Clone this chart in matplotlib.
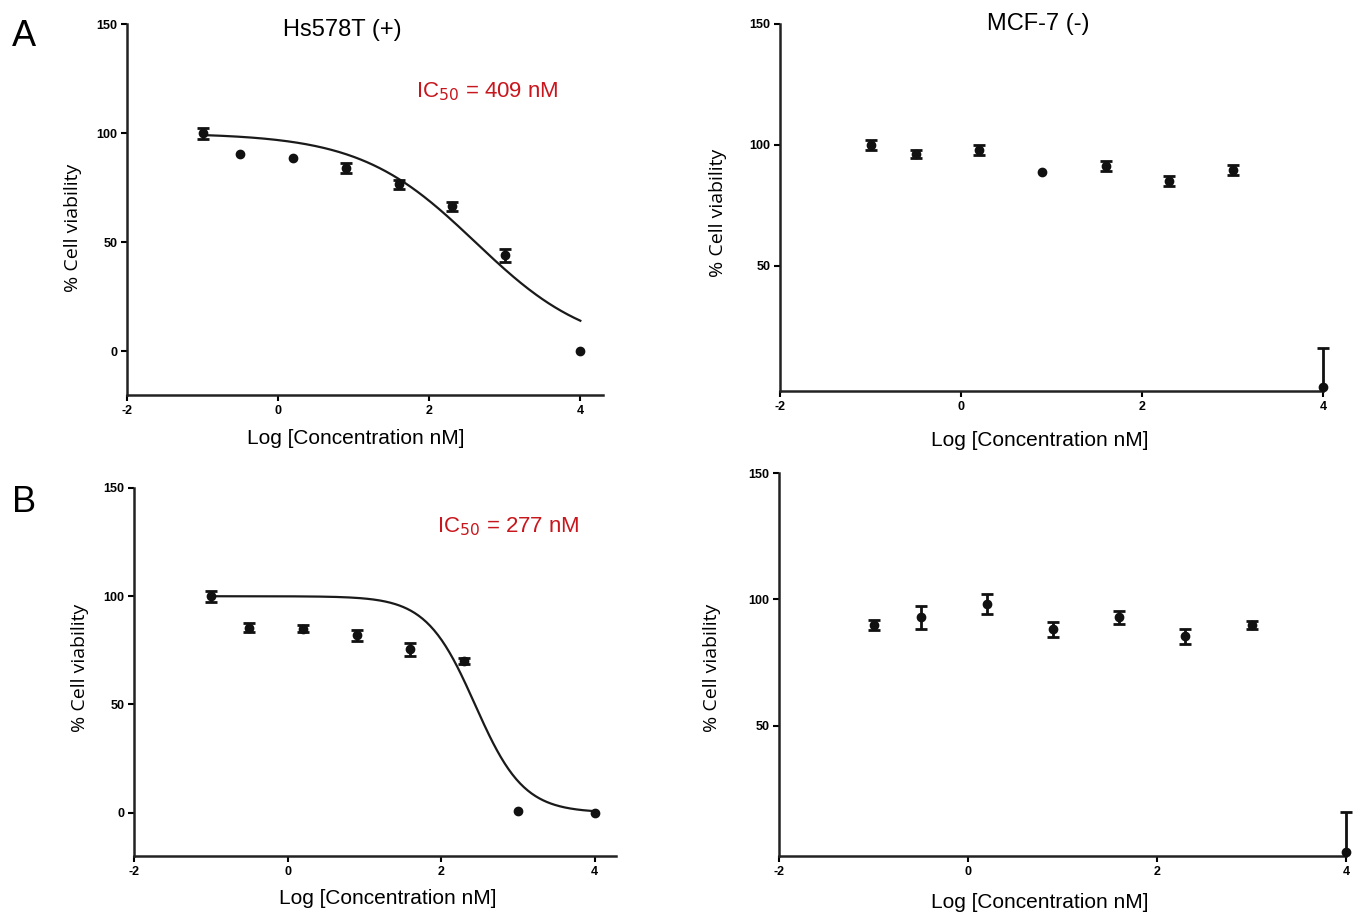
import numpy as np
import matplotlib
matplotlib.use("Agg")
import matplotlib.pyplot as plt

plt.rcParams['font.family'] = ['Liberation Sans Narrow', 'Liberation Sans', 'DejaVu Sans']
plt.rcParams['axes.unicode_minus'] = False

log_conc = [-1.0, -0.5, 0.2, 0.9, 1.6, 2.3, 3.0, 4.0]

# A: Hs578T (+)
hs_a_y = [100, 90.5, 88.5, 84, 76.5, 66.5, 44, 0]
hs_a_err = [2.5, 0, 0, 2.5, 2, 2, 3, 0]
# A: MCF-7 (-)
mcf_a_y = [100, 96.3, 98, 88.8, 91.3, 85.1, 89.7, 0]
mcf_a_err = [2, 1.5, 2, 0, 2, 2, 2, 16]
# B: Hs578T (+)
hs_b_y = [100, 85.5, 85, 82, 75.5, 70, 1, 0]
hs_b_err = [2.5, 2, 1.5, 2.5, 3, 1.5, 0, 0]
# B: MCF-7 (-)
mcf_b_y = [89.8, 92.9, 98, 88.2, 92.9, 85.4, 89.8, 0]
mcf_b_err = [2, 4.5, 4, 3, 2.5, 3, 1.5, 16]

# 4PL fit parameters: top, bottom, logIC50, hill
fit_a = (100, 0, np.log10(409), 0.567)
fit_b = (100, 0, np.log10(277), 1.37)

W, H = 1354, 915
fig = plt.figure(figsize=(W / 100, H / 100), dpi=100)


def box(l, t, r, b):
    return [l / W, 1 - b / H, (r - l) / W, (b - t) / H]


def fit_curve(ax, p):
    top, bot, lic, h = p
    xs = np.linspace(-1, 4, 300)
    ax.plot(xs, bot + (top - bot) / (1 + 10 ** ((xs - lic) * h)), color="#1a1a1a", lw=1.6, zorder=2)


def panel(rect, y, err, ylim, xlim, yticks, fit=None):
    ax = fig.add_axes(box(*rect))
    xe = [x for x, e in zip(log_conc, err) if e > 0]
    ye = [v for v, e in zip(y, err) if e > 0]
    up = [e for e in err if e > 0]
    lo = [min(e, v) for v, e in zip(ye, up)]  # bars stop at the x axis
    bars = ax.errorbar(xe, ye, yerr=[lo, up], fmt="none", ecolor="#111111", elinewidth=2,
                       capsize=4, capthick=2, zorder=3)
    for art in bars.lines[1] + bars.lines[2]:
        art.set_clip_on(False)
    # drop the lower cap where the bar is cut at the axis
    low_cap = bars.lines[1][0]
    keep = [i for i, l in enumerate(lo) if l > 0]
    low_cap.set_data([xe[i] for i in keep], [ye[i] - lo[i] for i in keep])
    ax.plot(log_conc, y, "o", color="#111111", ms=6, zorder=4, clip_on=False)
    if fit is not None:
        fit_curve(ax, fit)
    ax.set_xlim(*xlim)
    ax.set_ylim(*ylim)
    ax.set_xticks([-2, 0, 2, 4])
    ax.set_yticks(yticks)
    for s in ["top", "right"]:
        ax.spines[s].set_visible(False)
    for s in ["left", "bottom"]:
        ax.spines[s].set_linewidth(1.8)
        ax.spines[s].set_color("#222222")
    ax.tick_params(length=4, width=1.5, labelsize=9, pad=3)
    for lab in ax.get_xticklabels() + ax.get_yticklabels():
        lab.set_fontweight("bold")
    return ax


panel((127, 24, 603, 395), hs_a_y, hs_a_err, (-20, 150), (-2, 4.3), [0, 50, 100, 150], fit_a)
panel((780, 24, 1323, 391), mcf_a_y, mcf_a_err, (-1.7, 150), (-2, 4), [50, 100, 150])
panel((134, 488, 616, 856), hs_b_y, hs_b_err, (-20, 150), (-2, 4.28), [0, 50, 100, 150], fit_b)
panel((779, 473, 1346, 856), mcf_b_y, mcf_b_err, (-1.6, 150), (-2, 4), [50, 100, 150])


def t(px, py, s, **kw):
    fig.text(px / W, 1 - py / H, s, ha="center", va="center", **kw)


t(24, 37, "A", fontsize=26)
t(24, 502, "B", fontsize=26)
t(342, 30, "Hs578T (+)", fontsize=17)
t(1038, 24, "MCF-7 (-)", fontsize=17)
t(487, 92, r"IC$_{50}$ = 409 nM", fontsize=16, color="#c8161d")
t(508, 527, r"IC$_{50}$ = 277 nM", fontsize=16, color="#c8161d")

for px, py in [(356, 438), (1040, 441), (388, 899), (1040, 903)]:
    t(px, py, "Log [Concentration nM]", fontsize=15)
for px, py in [(73, 228), (718, 213), (80, 668), (712, 668)]:
    t(px, py, "% Cell viability", fontsize=14, rotation=90, family=["Open Sans", "DejaVu Sans"])

fig.savefig("out.png", dpi=100, facecolor="white")
